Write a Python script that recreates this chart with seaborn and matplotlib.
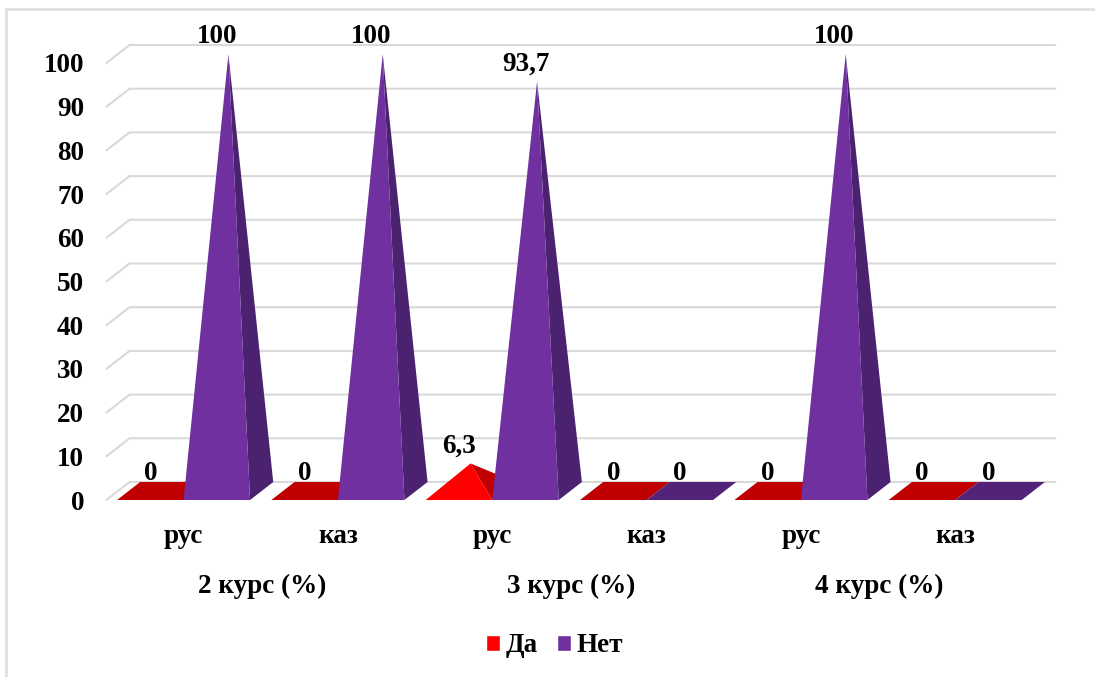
import numpy as np
import pandas as pd
import matplotlib
matplotlib.use("Agg")
import matplotlib.pyplot as plt
import seaborn as sns
from matplotlib.lines import Line2D
from matplotlib.patches import Polygon

languages = ["рус", "каз", "рус", "каз", "рус", "каз"]
courses = ["2 курс (%)", "3 курс (%)", "4 курс (%)"]
yes_values = [0, 0, 6.3, 0, 0, 0]
no_values = [100, 100, 93.7, 0, 100, 0]
y_ticks = list(range(0, 101, 10))

COLORS = {"Да": "#FF0000", "Нет": "#7030A0"}
SIDE = {"Да": "#C00000", "Нет": "#4A2270"}
FLAT = {"Да": "#C00000", "Нет": "#532379"}
GRID = "#D9D9D9"
FS = 19.5

# depth of the fake 3d floor, in data units
DX, DY = 0.15, 4.12

sns.set_theme(style="white")
plt.rcParams["font.family"] = ["Liberation Serif", "DejaVu Serif"]
plt.rcParams["font.weight"] = "bold"
plt.rcParams["text.color"] = "black"

W, H = 1095, 677
fig = plt.figure(figsize=(W / 100, H / 100), dpi=100)
ax = fig.add_axes([106.4 / W, (H - 500) / H, 926 / W, 437 / H])

df = pd.DataFrame({
    "slot": list(range(6)) * 2,
    "value": yes_values + no_values,
    "answer": ["Да"] * 6 + ["Нет"] * 6,
})
sns.barplot(data=df, x="slot", y="value", hue="answer", palette=COLORS,
            saturation=1, width=0.862, gap=0, ax=ax, zorder=3)

ax.set_xlim(-0.5, 5.5)
ax.set_ylim(0, 100)
sns.despine(ax=ax, left=True, bottom=True)
ax.patch.set_alpha(0)

# back wall gridlines plus the short diagonal on the side wall
for t in y_ticks:
    ax.plot([-0.5, -0.5 + DX, 5.5 + DX], [t, t + DY, t + DY], color=GRID,
            lw=1.5, clip_on=False, zorder=1, solid_joinstyle="miter")


def draw_pyramid(bar, answer):
    # the seaborn bar gives the front edge of the base and the height
    x0, w, v = bar.get_x(), bar.get_width(), bar.get_height()
    x1 = x0 + w
    if v == 0:
        ax.add_patch(Polygon([(x0, 0), (x1, 0), (x1 + DX, DY), (x0 + DX, DY)],
                             fc=FLAT[answer], ec="none", clip_on=False, zorder=4))
    else:
        apex = (x0 + w / 2 + DX / 2, v + DY / 2)
        ax.add_patch(Polygon([(x1, 0), (x1 + DX, DY), apex],
                             fc=SIDE[answer], ec="none", clip_on=False, zorder=4))
        ax.add_patch(Polygon([(x0, 0), (x1, 0), apex],
                             fc=COLORS[answer], ec="none", clip_on=False, zorder=4))
    ax.annotate(f"{v:g}".replace(".", ","), (x0 + w / 2, v), xytext=(0, 19),
                textcoords="offset points", ha="center", va="center",
                fontsize=FS, color="black", zorder=6, annotation_clip=False)


for container, answer in zip(ax.containers, ["Да", "Нет"]):
    for bar in container:
        draw_pyramid(bar, answer)
        bar.set_visible(False)

ax.set_xlabel("")
ax.set_ylabel("")
ax.set_yticks(y_ticks)
ax.set_xticks(range(6))
ax.set_xticklabels(languages)
ax.tick_params(axis="y", length=0, pad=16, labelsize=FS, colors="black")
ax.tick_params(axis="x", length=0, pad=17, labelsize=FS, colors="black")

for i, course in enumerate(courses):
    ax.annotate(course, (2 * i + 0.5, 0), xytext=(1, -62), textcoords="offset points",
                ha="center", va="center", fontsize=FS, color="black",
                annotation_clip=False)

sns.move_legend(ax, "center", bbox_to_anchor=(554.5 / W, 1 - 646 / H),
                bbox_transform=fig.transFigure, ncol=2, frameon=False, title=None,
                fontsize=FS, handlelength=0.52, handleheight=0.52,
                handletextpad=0.2, columnspacing=0.7, labelcolor="black")

# thin outer frame of the pasted chart
fig.add_artist(Line2D([6 / W, 6 / W, 1], [0, 1 - 9 / H, 1 - 9 / H], color="#E0E0E0", lw=2))

fig.savefig("out.png", dpi=100)
